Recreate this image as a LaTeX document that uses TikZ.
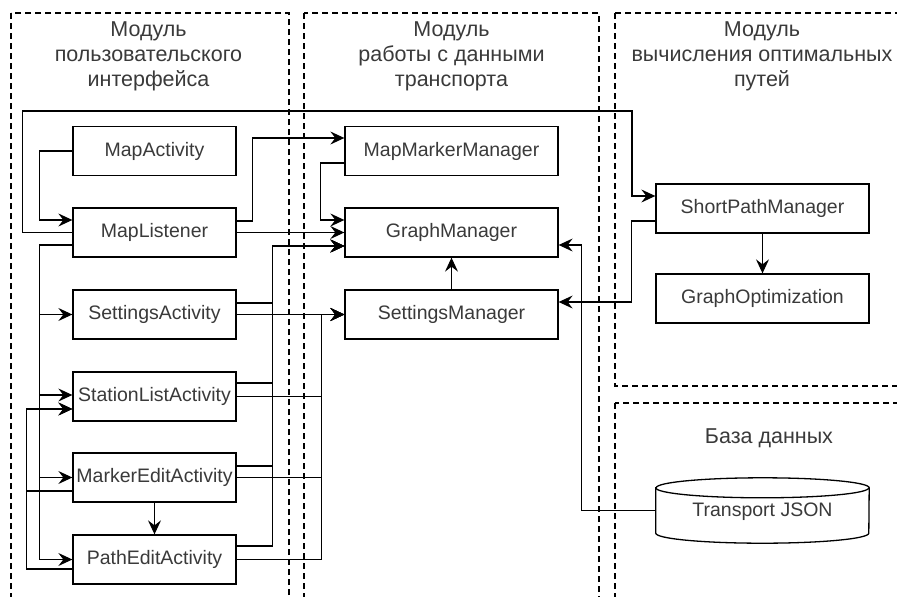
\documentclass[tikz,border=0pt]{standalone}
\usepackage{fontspec}
\setmainfont{Liberation Sans}
\usetikzlibrary{arrows.meta,calc}
\definecolor{ink}{HTML}{3A3A3A}
\newcommand\labelfont{\fontsize{19.5pt}{25pt}\selectfont}
\newcommand\headfont{\fontsize{21.5pt}{25pt}\selectfont}
\begin{document}
\begin{tikzpicture}[x=1pt,y=-1pt,
  module/.style={draw=black, line width=1.2pt, dash pattern=on 6pt off 4pt},
  title/.style={text=ink, font=\headfont, align=center, inner sep=0pt, anchor=north},
  box/.style={draw=black, line width=1.3pt, inner sep=0pt, text=ink, font=\labelfont,
              minimum height=49pt},
  lbox/.style={box, minimum width=163pt},
  rbox/.style={box, minimum width=213pt},
  link/.style={draw=black, line width=1.2pt},
  arr/.style={link, -{Stealth[length=14pt,width=13pt,inset=5pt]}}]

\useasboundingbox (0,0) rectangle (897,597);
\clip (0,0) rectangle (897,597);
\fill[white] (0,0) rectangle (897,597);

% module frames
\draw[module] (11,13) rectangle (289,620);
\draw[module] (304,13) rectangle (599,620);
\draw[module] (615,13) rectangle (930,386);
\draw[module] (615,403) rectangle (930,620);

% module titles
\node[title] (t1) at (148.5,22) {Модуль\\пользовательского\\интерфейса};
\node[title] (t2) at (451.5,22) {Модуль\\работы с данными\\транспорта};
\node[title] (t3) at (762,22) {Модуль\\вычисления оптимальных\\путей};
\node[title] (t4) at (769,429) {База данных};

% user interface module
\node[lbox] (ma)  at (154.5,151)   {MapActivity};
\node[lbox] (ml)  at (154.5,232.5) {MapListener};
\node[lbox] (sa)  at (154.5,314.5) {SettingsActivity};
\node[lbox] (sla) at (154.5,396.5) {StationListActivity};
\node[lbox] (mea) at (154.5,477.5) {MarkerEditActivity};
\node[lbox] (pea) at (154.5,559.5) {PathEditActivity};

% transport data module
\node[rbox] (mmm) at (451.5,151)   {MapMarkerManager};
\node[rbox] (gm)  at (451.5,232.5) {GraphManager};
\node[rbox] (sm)  at (451.5,314.5) {SettingsManager};

% optimal path module
\node[rbox] (spm) at (762.5,208.5) {ShortPathManager};
\node[rbox] (go)  at (762.5,298.5) {GraphOptimization};

% database cylinder
\node[inner sep=0pt, minimum width=213pt, minimum height=65pt] (db) at (762.5,510.5) {};
\draw[line width=1.3pt, fill=white]
  (db.north west) ++(0,10) -- ($(db.south west)+(0,-10)$)
  arc[start angle=180, end angle=360, x radius=106.5pt, y radius=10pt]
  -- ($(db.north east)+(0,10)$)
  arc[start angle=0, end angle=180, x radius=106.5pt, y radius=10pt] -- cycle;
\draw[line width=1.3pt] ($(db.north west)+(0,10)$)
  arc[start angle=180, end angle=360, x radius=106.5pt, y radius=10pt];
\node[text=ink, font=\labelfont, inner sep=0pt] (dbtext) at ([yshift=-1.5pt]db.center) {Transport JSON};

% connectors inside the user interface module
\draw[arr] (ma.west) -- ++(-33,0) |- ([yshift=12.5pt]ml.west);
\draw[arr] ([yshift=-12.5pt]ml.west) -- ++(-33,0) |- (sa.west);
\draw[arr] ([yshift=-12.5pt]ml.west) -- ++(-33,0) |- ([yshift=1.5pt]sla.west);
\draw[arr] ([yshift=-12.5pt]ml.west) -- ++(-33,0) |- (mea.west);
\draw[arr] ([yshift=-12.5pt]ml.west) -- ++(-33,0) |- (pea.west);
\draw[arr] ([yshift=-13.5pt]mea.west) -- ++(-46,0) |- ([yshift=-12.5pt]sla.west);
\draw[arr] ([yshift=-9.5pt]pea.west) -- ++(-46,0) |- ([yshift=-12.5pt]sla.west);
\draw[arr] (mea.south) -- (pea.north);

% MapListener to the other modules
\draw[arr] (ml.west) -- ++(-50,0) |- (632,111) |- ([yshift=12.5pt]spm.west);
\draw[arr] ([yshift=11.5pt]ml.east) -- ++(16,0) |- ([yshift=13pt]mmm.west);
\draw[arr] (ml.east) -- (gm.west);

% activities to GraphManager
\draw[arr] ([yshift=11.5pt]sa.east) -- ++(36,0) |- ([yshift=-13.5pt]gm.west);
\draw[arr] ([yshift=13.5pt]sla.east) -- ++(36,0) |- ([yshift=-13.5pt]gm.west);
\draw[arr] ([yshift=11.5pt]mea.east) -- ++(36,0) |- ([yshift=-13.5pt]gm.west);
\draw[arr] ([yshift=13.5pt]pea.east) -- ++(36,0) |- ([yshift=-13.5pt]gm.west);

% activities to SettingsManager
\draw[arr] (sa.east) -- (sm.west);
\draw[arr] (sla.east) -- ++(85,0) |- (sm.west);
\draw[arr] (mea.east) -- ++(85,0) |- (sm.west);
\draw[arr] (pea.east) -- ++(85,0) |- (sm.west);

% data module internal links
\draw[arr] ([yshift=-12pt]mmm.west) -- ++(-24,0) |- ([yshift=12.5pt]gm.west);
\draw[arr] (sm.north) -- (gm.south);

% optimal path and database links
\draw[arr] (spm.south) -- (go.north);
\draw[arr] ([yshift=-12.5pt]spm.west) -- ++(-24,0) |- ([yshift=12.5pt]sm.east);
\draw[arr] (db.west) -- ++(-74,0) |- ([yshift=-12.5pt]gm.east);

\end{tikzpicture}
\end{document}
